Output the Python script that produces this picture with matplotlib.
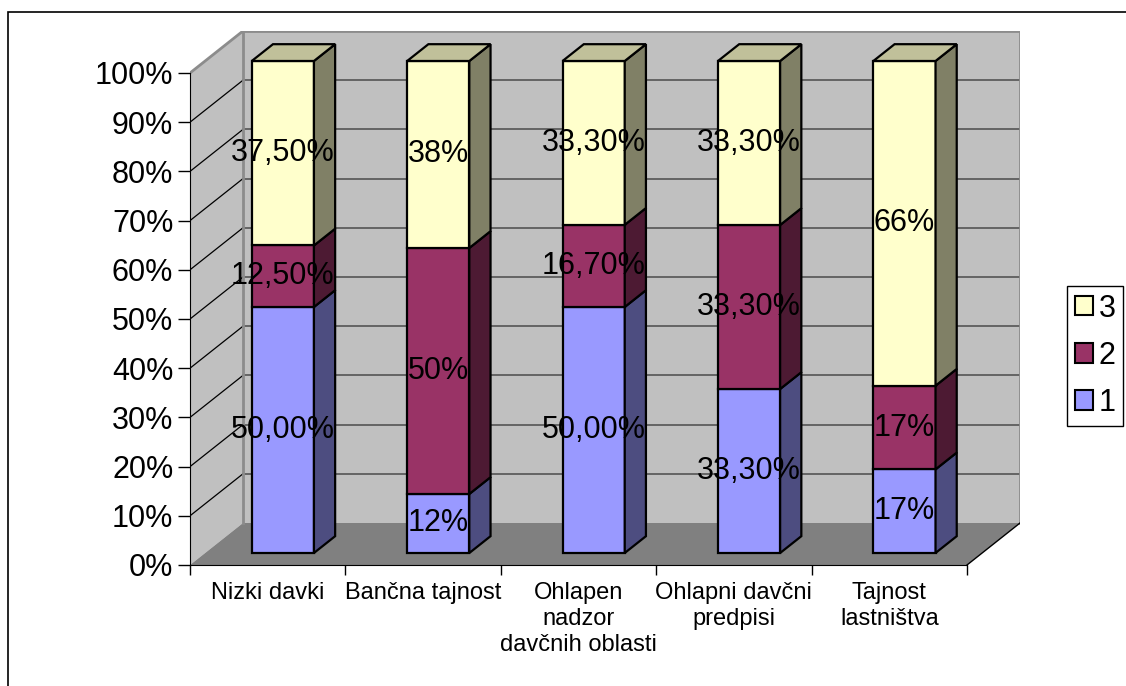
import matplotlib.pyplot as plt
from matplotlib.patches import Polygon, Patch, Rectangle
import numpy as np

plt.rcParams['font.family'] = ['Liberation Sans', 'DejaVu Sans']

categories = ["Nizki davki", "Bančna tajnost", "Ohlapen\nnadzor\ndavčnih oblasti",
              "Ohlapni davčni\npredpisi", "Tajnost\nlastništva"]
series_names = ["1", "2", "3"]
s1 = [50.00, 12, 50.00, 33.30, 17]
s2 = [12.50, 50, 16.70, 33.30, 17]
s3 = [37.50, 38, 33.30, 33.30, 66]
decimals = [2, 0, 2, 2, 0]  # how each category's labels are written

front_col = ['#9999ff', '#993366', '#ffffcc']
side_col = ['#4d4d80', '#4d1a33', '#808066']
top_col = ['#7373bf', '#73264d', '#c0c09a']

# 3d look: pixel scale of one category / one percent, depth offset in data units
PX_CAT = 155.4
PX_PCT = 4.92
DX = 53 / PX_CAT
DY = 42 / PX_PCT
F0, F1 = 0.286, 0.686   # bar front / back depth
BW = 0.4

W, H = 1126, 686
fig = plt.figure(figsize=(W / 100, H / 100), dpi=100)
n = len(categories)
ax = fig.add_axes([190 / W, 121 / H, (n + DX) * PX_CAT / W, (100 + DY) * PX_PCT / H])
ax.set_xlim(0, n + DX)
ax.set_ylim(0, 100 + DY)
ax.patch.set_visible(False)


def P(x, y, d):
    return (x + d * DX, y + d * DY)


# walls and floor
ax.add_patch(Polygon([(0, 0), (DX, DY), (DX, 100 + DY), (0, 100)], fc='#c0c0c0', ec='none', zorder=0))
ax.add_patch(Rectangle((DX, DY), n, 100, fc='#c0c0c0', ec='none', zorder=0))
ax.add_patch(Polygon([(0, 0), (n, 0), (n + DX, DY), (DX, DY)], fc='#808080', ec='none', zorder=0))

for p in range(10, 100, 10):
    ax.plot([DX, n + DX], [p + DY, p + DY], color='#555555', lw=1.2, zorder=0.5)
for p in range(10, 100, 10):
    ax.plot([0, DX], [p, p + DY], color='black', lw=0.9, zorder=0.5)

# wall borders
ax.plot([DX, DX, n + DX, n + DX], [DY, 100 + DY, 100 + DY, DY], color='#8c8c8c', lw=2, zorder=0.6)
ax.plot([0, DX], [100, 100 + DY], color='#8c8c8c', lw=2, zorder=0.6)
ax.plot([n, n + DX], [0, DY], color='black', lw=1, zorder=0.6)

# stacked 100% bars
data = np.array([s1, s2, s3])
shares = data / data.sum(axis=0) * 100
for i in range(n):
    bottom = 0
    x0, x1 = i + 0.5 - BW / 2, i + 0.5 + BW / 2
    for k in range(3):
        top = bottom + shares[k, i]
        front = [P(x0, bottom, F0), P(x1, bottom, F0), P(x1, top, F0), P(x0, top, F0)]
        side = [P(x1, bottom, F0), P(x1, bottom, F1), P(x1, top, F1), P(x1, top, F0)]
        ax.add_patch(Polygon(front, fc=front_col[k], ec='black', lw=1.6, joinstyle='miter', zorder=2))
        ax.add_patch(Polygon(side, fc=side_col[k], ec='black', lw=1.6, joinstyle='miter', zorder=2))
        if k == 2:
            cap = [P(x0, top, F0), P(x1, top, F0), P(x1, top, F1), P(x0, top, F1)]
            ax.add_patch(Polygon(cap, fc=top_col[k], ec='black', lw=1.6, joinstyle='miter', zorder=2))
        txt = f"{data[k, i]:.{decimals[i]}f}".replace('.', ',') + '%'
        lx, ly = P(i + 0.5, (bottom + top) / 2, F0)
        ax.text(lx, ly, txt, ha='center', va='center', fontsize=22, zorder=10)
        bottom = top

# axes
for s in ['top', 'right']:
    ax.spines[s].set_visible(False)
ax.spines['left'].set_bounds(0, 100)
ax.spines['bottom'].set_bounds(0, n)
ax.spines['left'].set_zorder(1)
ax.spines['bottom'].set_zorder(1)

ax.set_yticks(range(0, 101, 10))
ax.set_yticklabels([f"{v}%" for v in range(0, 101, 10)], fontsize=22)
ax.tick_params(axis='y', length=9, width=1, pad=3)

ax.set_xticks(range(n + 1))
ax.set_xticklabels([])
ax.tick_params(axis='x', which='major', length=7, width=1)
ax.set_xticks(np.arange(n) + 0.5, categories, minor=True)
ax.tick_params(axis='x', which='minor', length=0, pad=12, labelsize=17)
for t in ax.get_xticklabels(minor=True):
    t.set_linespacing(1.25)

handles = [Patch(fc=front_col[k], ec='black', lw=1.5) for k in (2, 1, 0)]
leg = fig.legend(handles, ['3', '2', '1'], loc='upper left',
                 bbox_to_anchor=(1067 / W, 1 - 286 / H), fontsize=22,
                 fancybox=False, edgecolor='black', framealpha=1,
                 handlelength=0.59, handleheight=0.59, handletextpad=0.2,
                 labelspacing=0.56, borderpad=0.25, borderaxespad=0)
leg.get_frame().set_linewidth(1)

fig.add_artist(Rectangle((8 / W, -0.1), 1.2, 1 - 12 / H + 0.1, transform=fig.transFigure,
                         fill=False, ec='black', lw=1.2))

fig.savefig('out.png', dpi=100)
